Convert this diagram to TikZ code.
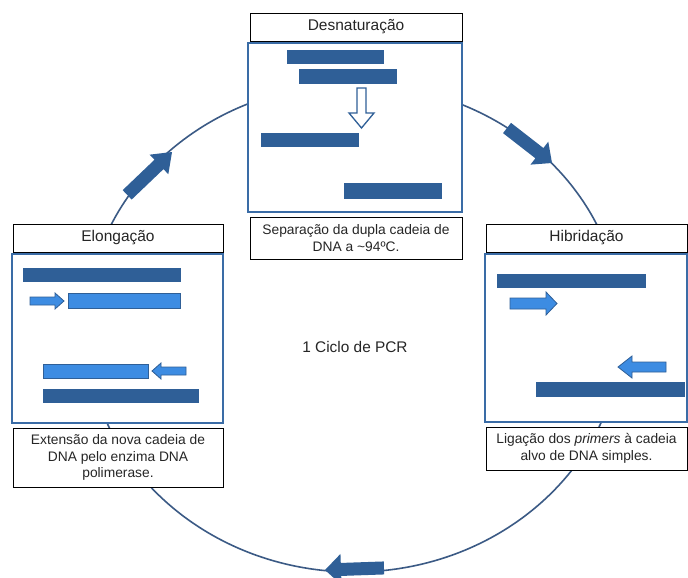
\documentclass[tikz,border=0pt]{standalone}
\usepackage{fontspec}
\setmainfont{Liberation Sans}
\definecolor{darkbar}{HTML}{2F5F97}
\definecolor{lightbar}{HTML}{3D8CE2}
\definecolor{panelblue}{HTML}{3A6CA6}
\definecolor{ringblue}{HTML}{3B5A85}
\definecolor{txt}{HTML}{262626}
\begin{document}
\begin{tikzpicture}[x=1pt,y=-1pt,
  titlebox/.style={draw=black, line width=0.8pt, fill=white, text=txt, inner sep=0pt,
    font=\fontsize{15.5}{18}\selectfont},
  capbox/.style={draw=black, line width=0.8pt, fill=white, text=txt, inner sep=0pt,
    align=center, font=\fontsize{13.8}{16.5}\selectfont},
  panel/.style={draw=panelblue, line width=1.8pt, fill=white, inner sep=0pt},
  dbar/.style={fill=darkbar},
  lbar/.style={fill=lightbar, draw=darkbar, line width=0.8pt},
  hollow/.style={fill=white, draw=darkbar, line width=1.3pt, line join=miter},
  ring/.style={draw=ringblue, line width=1.6pt},
  bigarrow/.style={fill=darkbar}]
\fill[white] (0,0) rectangle (688,578);
\useasboundingbox (0,0) rectangle (688,578);

% cycle ring
\draw[ring] (354,328) ellipse [x radius=268, y radius=244];

% ring arrows
\begin{scope}[shift={(172,152)}, rotate=43.7]
  \fill[bigarrow] (0pt,0pt) -- (-18pt,13.5pt) -- (-18pt,6.5pt) -- (-62pt,6.5pt)
    -- (-62pt,-6.5pt) -- (-18pt,-6.5pt) -- (-18pt,-13.5pt) -- cycle;
\end{scope}
\begin{scope}[shift={(552,163)}, rotate=-37.9]
  \fill[bigarrow] (0pt,0pt) -- (-16pt,14.5pt) -- (-16pt,6.5pt) -- (-57pt,6.5pt)
    -- (-57pt,-6.5pt) -- (-16pt,-6.5pt) -- (-16pt,-14.5pt) -- cycle;
\end{scope}
\begin{scope}[shift={(325,570)}, rotate=182]
  \fill[bigarrow] (0pt,0pt) -- (-16pt,15.5pt) -- (-16pt,6.5pt) -- (-59pt,6.5pt)
    -- (-59pt,-6.5pt) -- (-16pt,-6.5pt) -- (-16pt,-15.5pt) -- cycle;
\end{scope}

% Desnaturacao
\node[titlebox, minimum width=212pt, minimum height=28pt] (tD) at (356,27) {Desnaturação};
\node[panel, minimum width=214pt, minimum height=169pt] (pD) at (355,127.5) {};
\node[capbox, minimum width=212pt, minimum height=42pt] (cD) at (356,238)
  {Separação da dupla cadeia de\\DNA a \textasciitilde94ºC.};
\fill[dbar] (287,50) rectangle (384,64);
\fill[dbar] (299,69) rectangle (397,84);
\draw[hollow] (357,88) -- (366,88) -- (366,113) -- (374,113) -- (361.5,128)
  -- (349,113) -- (357,113) -- cycle;
\fill[dbar] (261,133) rectangle (359,147);
\fill[dbar] (344,183) rectangle (442,199);

% Elongacao
\node[titlebox, minimum width=210pt, minimum height=28pt] (tE) at (118,238) {Elongação};
\node[panel, minimum width=211pt, minimum height=169pt] (pE) at (117.5,338.5) {};
\node[capbox, minimum width=210pt, minimum height=59pt] (cE) at (118,457.5)
  {Extensão da nova cadeia de\\DNA pelo enzima DNA\\polimerase.};
\fill[dbar] (23,268) rectangle (181,282);
\draw[lbar] (30,297) -- (55,297) -- (55,293) -- (64,301) -- (55,309) -- (55,305)
  -- (30,305) -- cycle;
\draw[lbar] (68,293) rectangle (180,308);
\draw[lbar] (43,364) rectangle (148,378);
\draw[lbar] (152,371) -- (161,363) -- (161,367) -- (186,367) -- (186,375)
  -- (161,375) -- (161,379) -- cycle;
\fill[dbar] (43,389) rectangle (199,403);

% Hibridacao
\node[titlebox, minimum width=201pt, minimum height=28pt] (tH) at (586.5,238) {Hibridação};
\node[panel, minimum width=202pt, minimum height=168pt] (pH) at (586,338) {};
\node[capbox, minimum width=201pt, minimum height=43pt] (cH) at (586.5,448.5)
  {Ligação dos \textit{primers} à cadeia\\alvo de DNA simples.};
\fill[dbar] (497,274) rectangle (646,288);
\draw[lbar] (510,298) -- (546,298) -- (546,292) -- (557,303.5) -- (546,315)
  -- (546,309) -- (510,309) -- cycle;
\draw[lbar] (618,367) -- (632,356) -- (632,362) -- (666,362) -- (666,372)
  -- (632,372) -- (632,378) -- cycle;
\fill[dbar] (536,382) rectangle (685,397);

% centre label
\node[text=txt, font=\fontsize{15.4}{18}\selectfont] (cyc) at (355,347) {1 Ciclo de PCR};
\end{tikzpicture}
\end{document}
